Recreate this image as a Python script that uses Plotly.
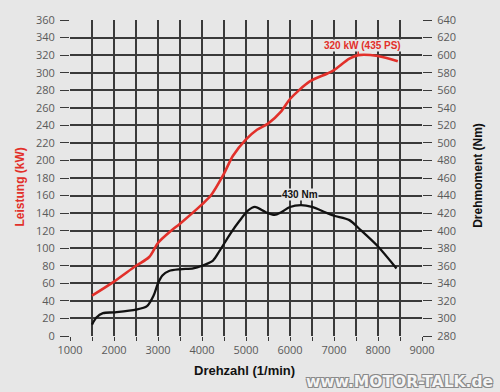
import plotly.graph_objects as go

# Power (kW, left axis)
rpm_power = [1500, 2000, 2500, 2800, 3000, 3300, 3500, 4000, 4200, 4500, 4700, 5000,
             5250, 5500, 5800, 6000, 6450, 6850, 7000, 7350, 7550, 8000, 8450]
power_kw = [46, 62, 80, 90, 106, 120, 128, 150, 160, 185, 205, 224,
            235, 242, 256, 270, 290, 299, 303, 316, 320, 319, 313]

# Torque (Nm, right axis)
rpm_torque = [1500, 1600, 1750, 2000, 2500, 2750, 2900, 3000, 3100, 3250, 3500, 3800, 4000, 4250,
              4400, 4650, 4850, 5050, 5200, 5450, 5650, 5800, 6000, 6250, 6500, 6800,
              7000, 7350, 7600, 8000, 8420]
torque_nm = [293, 301, 306, 307, 310, 314, 326, 340, 349, 354, 356, 357, 360, 366,
             377, 397, 411, 423, 427, 421, 418, 421, 427, 429, 427, 421,
             417, 412, 401, 382, 357]

x_ticks = [1000, 2000, 3000, 4000, 5000, 6000, 7000, 8000, 9000]
power_label = "320 kW (435 PS)"
torque_label = "430 Nm"

BG = "#e7e7e7"
GRID = "#3a3a3a"
RED = "#e2302a"
FONT = "Liberation Sans Narrow, Liberation Sans, Arial, sans-serif"

fig = go.Figure()
fig.add_trace(go.Scatter(x=rpm_power, y=power_kw, mode="lines",
                         line=dict(color=RED, width=2.6, shape="spline", smoothing=0.8),
                         yaxis="y", showlegend=False, hoverinfo="skip"))
fig.add_trace(go.Scatter(x=rpm_torque, y=torque_nm, mode="lines",
                         line=dict(color="#111111", width=2.3, shape="spline", smoothing=0.8),
                         yaxis="y2", showlegend=False, hoverinfo="skip"))

# peak markers derived from data
ip = power_kw.index(max(power_kw))
it = torque_nm.index(max(torque_nm))
fig.add_shape(type="line", xref="x", yref="y", x0=rpm_power[ip], x1=rpm_power[ip],
              y0=power_kw[ip], y1=power_kw[ip] + 6, line=dict(color=RED, width=1.5))
fig.add_shape(type="line", xref="x", yref="y2", x0=rpm_torque[it], x1=rpm_torque[it],
              y0=torque_nm[it], y1=torque_nm[it] + 7, line=dict(color="#111111", width=1.5))

fig.add_annotation(x=rpm_power[ip] + 90, y=power_kw[ip] + 11, xref="x", yref="y",
                   text="<b>" + power_label + "</b>", showarrow=False,
                   xanchor="center", yanchor="middle",
                   font=dict(family=FONT, size=10, color=RED), bgcolor=BG, borderpad=0)
fig.add_annotation(x=rpm_torque[it] - 20, y=torque_nm[it] + 12, xref="x", yref="y2",
                   text="<b>" + torque_label + "</b>", showarrow=False,
                   xanchor="center", yanchor="middle",
                   font=dict(family=FONT, size=10, color="#111111"), bgcolor=BG, borderpad=0)

# axis titles
fig.add_annotation(x=-0.142, y=0.47, xref="paper", yref="paper", text="<b>Leistung (kW)</b>",
                   textangle=-90, showarrow=False, xanchor="center", yanchor="middle",
                   font=dict(family=FONT, size=12, color=RED))
fig.add_annotation(x=1.159, y=0.51, xref="paper", yref="paper", text="<b>Drehmoment (Nm)</b>",
                   textangle=-90, showarrow=False, xanchor="center", yanchor="middle",
                   font=dict(family=FONT, size=12, color="#111111"))
fig.add_annotation(x=0.497, y=-0.11, xref="paper", yref="paper", text="<b>Drehzahl (1/min)</b>",
                   showarrow=False, xanchor="center", yanchor="middle",
                   font=dict(family=FONT, size=13, color="#111111"))
fig.add_annotation(x=0.937, y=-0.145, xref="paper", yref="paper", text="<b>www.MOTOR-TALK.de</b>",
                   showarrow=False, xanchor="center", yanchor="middle",
                   font=dict(family="DejaVu Sans, Liberation Sans, Arial, sans-serif", size=15.5,
                             color="#f4f4f4",
                             shadow="1px 1px 0 #8a8a8a, -1px -1px 0 #8a8a8a, 1px -1px 0 #8a8a8a, -1px 1px 0 #8a8a8a"))

tickfont = dict(family="Open Sans, Liberation Sans, sans-serif", size=11, color="#5a5a5a")

fig.update_layout(
    width=500, height=392,
    margin=dict(l=70, r=78, t=18, b=56),
    paper_bgcolor=BG, plot_bgcolor=BG,
    hovermode=False,
    xaxis=dict(range=[1000, 9000], tickvals=x_ticks, showgrid=True, gridcolor=GRID, gridwidth=1.6,
               minor=dict(dtick=500, showgrid=True, gridcolor=GRID, gridwidth=1.6,
                          ticks="outside", ticklen=4, tickcolor=GRID),
               ticks="outside", ticklen=4, tickcolor=GRID, zeroline=False,
               showline=False, tickfont=tickfont, fixedrange=True),
    yaxis=dict(range=[0, 360], dtick=20, showgrid=True, gridcolor=GRID, gridwidth=1.6,
               ticks="outside", ticklen=9, tickcolor=GRID, zeroline=False, showline=False,
               tickfont=tickfont, ticklabelstandoff=3, fixedrange=True),
    yaxis2=dict(range=[280, 640], dtick=20, overlaying="y", side="right", showgrid=False,
                ticks="outside", ticklen=9, tickcolor=GRID, zeroline=False, showline=False,
                tickfont=tickfont, ticklabelstandoff=3, fixedrange=True),
)

fig.write_html("out.html", config={"displayModeBar": False},
               post_script="document.body.style.margin='0';document.body.style.background='" + BG + "';")
